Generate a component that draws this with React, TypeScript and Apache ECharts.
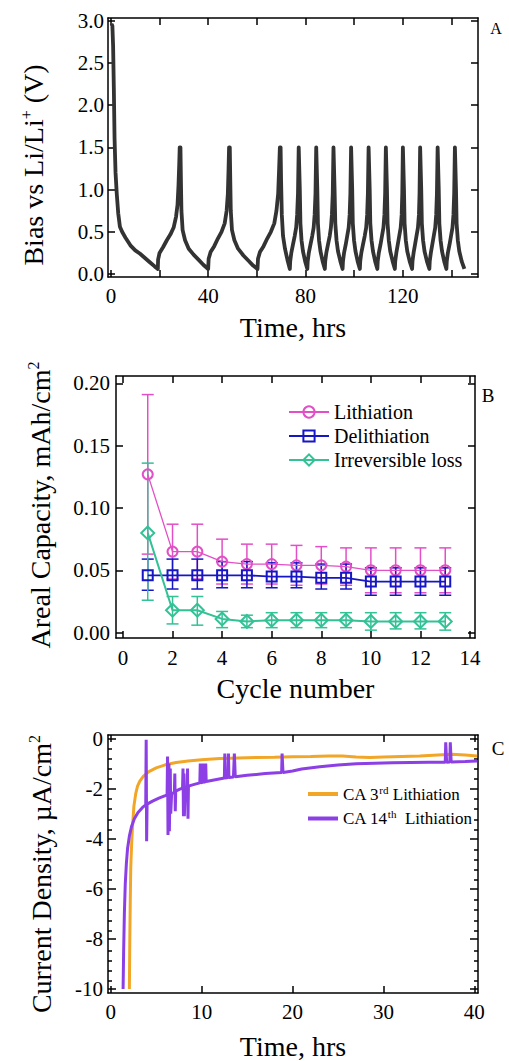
import React, { useEffect, useRef } from "react";
import * as echarts from "echarts";

const FONT = "Liberation Serif, Times New Roman, Times, serif";

// ---------- Panel A: bias vs time ----------
const biasInitial = [
  [0.2, 2.96], [0.6, 2.94], [0.9, 2.7], [1.2, 2.2], [1.5, 1.6], [1.9, 1.2], [2.4, 0.95], [3.0, 0.72],
  [3.7, 0.56], [4.6, 0.5], [6, 0.43], [8, 0.34], [10, 0.28], [12, 0.24], [14, 0.19], [16, 0.14],
  [18, 0.09], [19.3, 0.06],
];
const biasSlowCycles = [
  [19.4, 0.17], [20, 0.25], [21.5, 0.32], [23, 0.4], [24.5, 0.47], [25.8, 0.55], [26.8, 0.68], [27.4, 0.82],
  [27.8, 1.05], [28.1, 1.3], [28.3, 1.5], [28.6, 1.5], [28.8, 1.1], [29.0, 0.75], [29.5, 0.52], [30.5, 0.4],
  [32, 0.3], [34, 0.23], [36, 0.17], [38, 0.11], [40, 0.06],
  [40.2, 0.18], [41, 0.26], [42.5, 0.33], [44, 0.42], [45.5, 0.5], [46.8, 0.6], [47.6, 0.75], [48.1, 0.95],
  [48.4, 1.25], [48.6, 1.5], [48.9, 1.5], [49.1, 1.1], [49.3, 0.75], [49.8, 0.52], [50.8, 0.4], [52.3, 0.3],
  [54.5, 0.22], [56.5, 0.16], [58.5, 0.1], [60.3, 0.06],
  [60.5, 0.18], [61.3, 0.26], [62.8, 0.33], [64.3, 0.42], [65.8, 0.5], [67.2, 0.6], [68.1, 0.75], [68.8, 0.95],
  [69.2, 1.25], [69.5, 1.5], [69.8, 1.5], [70.0, 1.1], [70.3, 0.7], [70.8, 0.45], [71.6, 0.3], [72.6, 0.17],
  [73.6, 0.06],
];
const biasFastCycles = [
  [73.75, 0.15], [74.2, 0.25], [74.9, 0.35], [75.6, 0.45], [76.2, 0.55], [76.6, 0.7], [76.95, 0.95], [77.25, 1.5],
  [77.5, 1.5], [77.7, 1.0], [77.95, 0.6], [78.4, 0.4], [79.0, 0.27], [79.9, 0.15], [80.8, 0.06],
  [80.95, 0.15], [81.4, 0.25], [82.1, 0.35], [82.8, 0.45], [83.4, 0.55], [83.8, 0.7], [84.15, 0.95], [84.45, 1.5],
  [84.7, 1.5], [84.9, 1.0], [85.15, 0.6], [85.6, 0.4], [86.2, 0.27], [87.1, 0.15], [88.0, 0.06],
  [88.15, 0.15], [88.6, 0.25], [89.3, 0.35], [90.0, 0.45], [90.5, 0.55], [90.9, 0.7], [91.25, 0.95], [91.55, 1.5],
  [91.8, 1.5], [92.0, 1.0], [92.3, 0.6], [92.8, 0.4], [93.4, 0.27], [94.4, 0.15], [95.3, 0.06],
  [95.45, 0.15], [95.9, 0.25], [96.6, 0.35], [97.2, 0.45], [97.8, 0.55], [98.2, 0.7], [98.5, 0.95], [98.8, 1.5],
  [99.05, 1.5], [99.25, 1.0], [99.5, 0.6], [100.0, 0.4], [100.6, 0.27], [101.5, 0.15], [102.4, 0.06],
  [102.55, 0.15], [103.0, 0.25], [103.7, 0.35], [104.4, 0.45], [105.0, 0.55], [105.4, 0.7], [105.7, 0.95], [106.0, 1.5],
  [106.25, 1.5], [106.45, 1.0], [106.7, 0.6], [107.2, 0.4], [107.8, 0.27], [108.7, 0.15], [109.6, 0.06],
  [109.75, 0.15], [110.2, 0.25], [110.9, 0.35], [111.5, 0.45], [112.1, 0.55], [112.5, 0.7], [112.8, 0.95], [113.1, 1.5],
  [113.35, 1.5], [113.55, 1.0], [113.8, 0.6], [114.3, 0.4], [114.9, 0.27], [115.9, 0.15], [116.8, 0.06],
  [116.95, 0.15], [117.4, 0.25], [118.0, 0.35], [118.6, 0.45], [119.2, 0.55], [119.6, 0.7], [119.85, 0.95], [120.1, 1.5],
  [120.35, 1.5], [120.55, 1.0], [120.8, 0.6], [121.3, 0.4], [121.9, 0.27], [122.9, 0.15], [123.9, 0.06],
  [124.05, 0.15], [124.5, 0.25], [125.1, 0.35], [125.7, 0.45], [126.3, 0.55], [126.7, 0.7], [126.95, 0.95], [127.2, 1.5],
  [127.45, 1.5], [127.65, 1.0], [127.9, 0.6], [128.4, 0.4], [129.0, 0.27], [130.0, 0.15], [131.0, 0.06],
  [131.15, 0.15], [131.6, 0.25], [132.2, 0.35], [132.8, 0.45], [133.4, 0.55], [133.8, 0.7], [134.1, 0.95], [134.4, 1.5],
  [134.65, 1.5], [134.85, 1.0], [135.1, 0.6], [135.6, 0.4], [136.2, 0.27], [137.1, 0.15], [138.0, 0.06],
  [138.15, 0.15], [138.6, 0.25], [139.3, 0.35], [139.9, 0.45], [140.5, 0.55], [140.9, 0.7], [141.2, 0.95], [141.5, 1.5],
  [141.75, 1.5], [141.95, 1.0], [142.2, 0.6], [142.7, 0.4], [143.3, 0.27], [144.3, 0.15], [145.4, 0.06],
];
const timeTicksA = [0, 20, 40, 60, 80, 100, 120, 140];
const timeLabelsA = [0, 40, 80, 120];
const biasTicks = [0, 0.5, 1, 1.5, 2, 2.5, 3];

// ---------- Panel B: areal capacity ----------
const cycleNumber = [1, 2, 3, 4, 5, 6, 7, 8, 9, 10, 11, 12, 13];
const lithiation = [0.127, 0.065, 0.065, 0.057, 0.055, 0.055, 0.054, 0.054, 0.053, 0.05, 0.05, 0.05, 0.05];
const lithiationHigh = [0.191, 0.087, 0.087, 0.075, 0.071, 0.071, 0.07, 0.069, 0.068, 0.068, 0.068, 0.068, 0.068];
const lithiationLow = [0.063, 0.043, 0.043, 0.039, 0.039, 0.039, 0.038, 0.039, 0.038, 0.032, 0.032, 0.032, 0.032];
const delithiation = [0.046, 0.046, 0.046, 0.046, 0.046, 0.045, 0.045, 0.044, 0.044, 0.041, 0.041, 0.041, 0.041];
const delithiationHigh = [0.059, 0.059, 0.059, 0.057, 0.057, 0.056, 0.056, 0.055, 0.055, 0.052, 0.052, 0.052, 0.052];
const delithiationLow = [0.034, 0.035, 0.035, 0.036, 0.036, 0.036, 0.036, 0.035, 0.035, 0.03, 0.03, 0.03, 0.03];
const irreversible = [0.08, 0.018, 0.018, 0.011, 0.009, 0.01, 0.01, 0.01, 0.01, 0.009, 0.009, 0.009, 0.009];
const irreversibleHigh = [0.136, 0.029, 0.029, 0.017, 0.014, 0.016, 0.016, 0.016, 0.016, 0.016, 0.016, 0.016, 0.016];
const irreversibleLow = [0.026, 0.007, 0.006, 0.004, 0.004, 0.004, 0.004, 0.004, 0.004, 0.002, 0.003, 0.003, 0.002];
const cycleTicks = [0, 2, 4, 6, 8, 10, 12, 14];
const capacityTicks = [0, 0.05, 0.1, 0.15, 0.2];

// ---------- Panel C: current density ----------
const ca3rd = [
  [2.05, -10], [2.1, -8], [2.15, -6.5], [2.2, -5.2], [2.3, -4.2], [2.4, -3.5], [2.55, -2.7], [2.75, -2.2],
  [2.95, -1.9], [3.2, -1.7], [3.6, -1.5], [4.2, -1.32], [5.0, -1.17], [6.0, -1.05], [7.2, -0.96], [8.5, -0.9],
  [10, -0.85], [12, -0.8], [14, -0.78], [16, -0.76], [18, -0.75], [20, -0.73], [22, -0.72], [24, -0.7],
  [25.5, -0.7], [27, -0.74], [28.5, -0.76], [30, -0.74], [32, -0.72], [34, -0.7], [36, -0.66], [37.5, -0.63],
  [39, -0.66], [40.3, -0.7],
];
const ca14th = [
  [1.36, -10], [1.42, -8.5], [1.5, -7.0], [1.6, -5.8], [1.72, -5.0], [1.85, -4.4], [2.05, -3.9], [2.3, -3.5],
  [2.6, -3.2], [3.0, -2.95], [3.5, -2.75], [3.85, -2.65], [3.9, -0.05], [3.95, -4.1], [4.0, -2.62],
  [4.6, -2.5], [5.3, -2.38], [6.0, -2.28], [6.2, -2.25], [6.25, -0.72], [6.3, -3.85], [6.4, -1.0], [6.45, -3.7],
  [6.55, -1.2], [6.6, -3.0], [6.7, -2.2], [7.0, -2.15], [7.05, -1.4], [7.1, -2.9], [7.15, -2.1],
  [7.6, -2.02], [7.9, -1.98], [7.95, -1.2], [8.0, -3.1], [8.05, -1.4], [8.1, -3.1], [8.2, -1.95], [8.4, -1.92],
  [8.45, -1.2], [8.5, -3.2], [8.55, -1.9], [9.0, -1.85], [9.8, -1.77], [9.85, -1.0], [9.9, -1.77], [10.1, -1.75],
  [10.15, -1.0], [10.2, -1.75], [10.4, -1.73], [10.45, -1.0], [10.5, -1.72], [11.5, -1.65], [12.5, -1.58],
  [12.55, -0.6], [12.6, -1.58], [12.9, -1.56], [12.95, -0.6], [13.0, -1.56], [13.5, -1.54], [13.6, -0.6],
  [13.7, -1.53], [15, -1.47], [17, -1.4], [18.8, -1.36], [18.85, -0.6], [18.95, -1.36], [20, -1.3], [21, -1.22],
  [23, -1.13], [25, -1.06], [27, -1.01], [29, -0.99], [31, -0.97], [33, -0.96], [35, -0.95], [36.8, -0.95],
  [36.85, -0.15], [36.95, -0.95], [37.3, -0.94], [37.35, -0.15], [37.45, -0.94], [39, -0.92], [40.3, -0.9],
];
const timeTicksC = [0, 10, 20, 30, 40];
const currentTicks = [0, -2, -4, -6, -8, -10];
const currentMinorTicks = [
  -9.6, -9.2, -8.8, -8.4, -7.6, -7.2, -6.8, -6.4, -5.6, -5.2, -4.8, -4.4, -3.6, -3.2, -2.8, -2.4, -1.6, -1.2, -0.8, -0.4,
];

const PINK = "#e24fc6";
const BLUE = "#1616c4";
const GREEN = "#33c196";
const ORANGE = "#f2a627";
const PURPLE = "#8b3fe5";

function axis(
  gridIndex: number,
  position: string,
  min: number,
  max: number,
  ticks: number[],
  labels: number[] | null,
  opts: any = {}
) {
  return {
    type: "value",
    gridIndex,
    position,
    min,
    max,
    show: opts.show !== false,
    axisLine: { show: opts.line !== false, onZero: false, lineStyle: { color: "#000", width: 1.5 } },
    axisTick: {
      show: true,
      inside: true,
      length: opts.tickLen || 7,
      customValues: ticks,
      lineStyle: { color: "#000", width: 1.5 },
    },
    axisLabel: labels
      ? {
          show: true,
          customValues: labels,
          interval: 0,
          hideOverlap: false,
          margin: opts.margin ?? 6,
          fontSize: 21,
          fontFamily: FONT,
          color: "#000",
          formatter: opts.formatter || ((v: number) => String(v)),
        }
      : { show: false },
    splitLine: { show: false },
    name: opts.name,
    nameLocation: "middle",
    nameGap: opts.nameGap,
    nameTextStyle: { fontSize: 28, fontFamily: FONT, color: "#000" },
  };
}

function errorBars(name: string, highs: number[], lows: number[], color: string) {
  return {
    type: "custom",
    name,
    xAxisIndex: 2,
    yAxisIndex: 2,
    silent: true,
    z: 1,
    data: cycleNumber.map((c, i) => [c, highs[i], lows[i]]),
    encode: { x: 0, y: [1, 2] },
    renderItem: (_params: any, api: any) => {
      const x = api.value(0);
      const top = api.coord([x, api.value(1)]);
      const bot = api.coord([x, api.value(2)]);
      const hw = 6;
      const style = { stroke: color, lineWidth: 1.5 };
      return {
        type: "group",
        children: [
          { type: "line", shape: { x1: top[0], y1: top[1], x2: bot[0], y2: bot[1] }, style },
          { type: "line", shape: { x1: top[0] - hw, y1: top[1], x2: top[0] + hw, y2: top[1] }, style },
          { type: "line", shape: { x1: bot[0] - hw, y1: bot[1], x2: bot[0] + hw, y2: bot[1] }, style },
        ],
      };
    },
  };
}

function pointSeries(name: string, values: number[], color: string, symbol: string, size: number, width: number) {
  return {
    type: "line",
    name,
    xAxisIndex: 2,
    yAxisIndex: 2,
    z: 3,
    data: cycleNumber.map((c, i) => [c, values[i]]),
    symbol,
    symbolSize: size,
    showSymbol: true,
    lineStyle: { color, width },
    itemStyle: { color: "rgba(255,255,255,0)", borderColor: color, borderWidth: 2 },
  };
}

const richName = (main: number) => ({
  n: { fontSize: main, fontFamily: FONT, fill: "#000", color: "#000", lineHeight: 30 },
  s: { fontSize: 16, fontFamily: FONT, fill: "#000", color: "#000", lineHeight: 12, verticalAlign: "top" },
});

export default function App() {
  const ref = useRef<HTMLDivElement>(null);
  useEffect(() => {
    if (!ref.current) return;
    const chart = echarts.init(ref.current, undefined, { renderer: "svg" });
    const option: any = {
      animation: false,
      backgroundColor: "#fff",
      textStyle: { fontFamily: FONT, color: "#000" },
      grid: [
        { left: 108, top: 18, width: 370, height: 259 },
        { left: 116, top: 376, width: 359, height: 262 },
        { left: 108, top: 735, width: 370, height: 260 },
        { left: 108, top: 735, width: 370, height: 260 },
      ],
      xAxis: [
        axis(0, "bottom", -1.2, 151, timeTicksA, timeLabelsA, { margin: 8, name: "Time, hrs", nameGap: 36 }),
        axis(0, "top", -1.2, 151, timeTicksA, null),
        axis(1, "bottom", -0.28, 14.2, cycleTicks, cycleTicks, { margin: 9, name: "Cycle number", nameGap: 36 }),
        axis(1, "top", -0.28, 14.2, cycleTicks, null),
        axis(2, "bottom", -0.3, 40.4, timeTicksC, timeTicksC, { margin: 8, name: "Time, hrs", nameGap: 39 }),
        axis(2, "top", -0.3, 40.4, timeTicksC, null),
        axis(3, "bottom", -0.3, 40.4, [], null, { show: false }),
      ],
      yAxis: [
        axis(0, "left", -0.035, 3.03, biasTicks, biasTicks, { margin: 4, formatter: (v: number) => v.toFixed(1) }),
        axis(0, "right", -0.035, 3.03, biasTicks, null),
        axis(1, "left", -0.0043, 0.2059, capacityTicks, capacityTicks, {
          margin: 6,
          formatter: (v: number) => v.toFixed(2),
        }),
        axis(1, "right", -0.0043, 0.2059, capacityTicks, null),
        axis(2, "left", -10.16, 0.14, currentTicks, currentTicks, { margin: 5, tickLen: 8 }),
        axis(2, "right", -10.16, 0.14, currentTicks, null, { tickLen: 8 }),
        axis(3, "left", -10.16, 0.14, currentMinorTicks, null, { line: false, tickLen: 4 }),
        axis(3, "right", -10.16, 0.14, currentMinorTicks, null, { line: false, tickLen: 4 }),
      ],
      legend: [
        {
          data: ["Lithiation", "Delithiation", "Irreversible loss"],
          orient: "vertical",
          left: 283,
          top: 397,
          itemWidth: 40,
          itemHeight: 14,
          itemGap: 4,
          selectedMode: false,
          textStyle: { fontSize: 20, fontFamily: FONT, color: "#000" },
        },
        {
          data: ["CA 3rd Lithiation", "CA 14th Lithiation"],
          orient: "vertical",
          left: 303,
          top: 779,
          icon: "rect",
          itemWidth: 30,
          itemHeight: 4,
          itemGap: 6,
          selectedMode: false,
          formatter: (name: string) =>
            name === "CA 3rd Lithiation" ? "{n|CA 3}{s|rd}{n| Lithiation}" : "{n|CA 14}{s|th}{n|  Lithiation}",
          textStyle: {
            fontSize: 17,
            fontFamily: FONT,
            color: "#000",
            rich: {
              n: { fontSize: 17, fontFamily: FONT, color: "#000", lineHeight: 20 },
              s: { fontSize: 11, fontFamily: FONT, color: "#000", lineHeight: 11, verticalAlign: "top" },
            },
          },
        },
      ],
      graphic: [
        {
          type: "text",
          x: 33,
          y: 165,
          rotation: Math.PI / 2,
          style: {
            text: "{n|Bias vs Li/Li}{s|+}{n| (V)}",
            rich: richName(28),
            align: "center",
            verticalAlign: "middle",
          },
        },
        {
          type: "text",
          x: 40,
          y: 505,
          rotation: Math.PI / 2,
          style: {
            text: "{n|Areal Capacity, mAh/cm}{s|2}",
            rich: richName(28),
            align: "center",
            verticalAlign: "middle",
          },
        },
        {
          type: "text",
          x: 41,
          y: 874,
          rotation: Math.PI / 2,
          style: {
            text: "{n|Current Density, \u00b5A/cm}{s|2}",
            rich: richName(28),
            align: "center",
            verticalAlign: "middle",
          },
        },
        {
          type: "text",
          x: 496,
          y: 28,
          style: { text: "A", fontSize: 16, fontFamily: FONT, fill: "#000", align: "center", verticalAlign: "middle" },
        },
        {
          type: "text",
          x: 488,
          y: 395,
          style: { text: "B", fontSize: 19, fontFamily: FONT, fill: "#000", align: "center", verticalAlign: "middle" },
        },
        {
          type: "text",
          x: 498,
          y: 748,
          style: { text: "C", fontSize: 19, fontFamily: FONT, fill: "#000", align: "center", verticalAlign: "middle" },
        },
      ],
      series: [
        {
          type: "line",
          name: "Bias",
          xAxisIndex: 0,
          yAxisIndex: 0,
          data: [...biasInitial, ...biasSlowCycles, ...biasFastCycles],
          showSymbol: false,
          symbol: "none",
          lineStyle: { color: "#333333", width: 3.8, join: "round" },
        },
        errorBars("Lithiation error", lithiationHigh, lithiationLow, PINK),
        errorBars("Delithiation error", delithiationHigh, delithiationLow, BLUE),
        errorBars("Irreversible loss error", irreversibleHigh, irreversibleLow, GREEN),
        pointSeries("Lithiation", lithiation, PINK, "circle", 10, 1.3),
        pointSeries("Delithiation", delithiation, BLUE, "rect", 10, 1.8),
        pointSeries("Irreversible loss", irreversible, GREEN, "diamond", 13, 2),
        {
          type: "line",
          name: "CA 3rd Lithiation",
          xAxisIndex: 4,
          yAxisIndex: 4,
          data: ca3rd,
          symbol: "none",
          showSymbol: false,
          lineStyle: { color: ORANGE, width: 3 },
          itemStyle: { color: ORANGE },
        },
        {
          type: "line",
          name: "CA 14th Lithiation",
          xAxisIndex: 4,
          yAxisIndex: 4,
          data: ca14th,
          symbol: "none",
          showSymbol: false,
          lineStyle: { color: PURPLE, width: 3 },
          itemStyle: { color: PURPLE },
        },
      ],
    };
    chart.setOption(option);
    return () => chart.dispose();
  }, []);
  return (
    <div
      ref={ref}
      style={{ position: "absolute", left: 0, top: 0, width: 509, height: 1061, background: "#fff" }}
    />
  );
}
